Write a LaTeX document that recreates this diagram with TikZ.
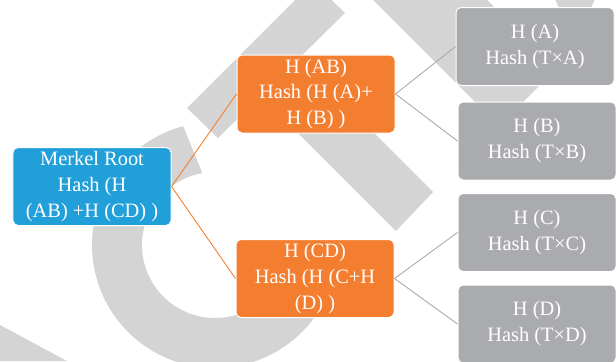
\documentclass[tikz,border=0pt]{standalone}
\usepackage{fontspec}
\setmainfont{Liberation Serif}
\definecolor{wmgray}{HTML}{D4D4D4}
\definecolor{rootblue}{HTML}{219FD9}
\definecolor{midorange}{HTML}{F47E30}
\definecolor{leafgray}{HTML}{AAABAF}
\definecolor{linegray}{HTML}{ABABAB}
\tikzset{
  wm/.style={fill=wmgray, draw=none},
  hbox/.style={rectangle, rounded corners=5bp, draw=white, line width=1bp,
    minimum width=158bp, minimum height=78bp, inner sep=0pt, align=center,
    text=white, font=\fontsize{20.5}{26}\selectfont},
  rootbox/.style={hbox, fill=rootblue},
  midbox/.style={hbox, fill=midorange},
  leafbox/.style={hbox, fill=leafgray},
  orangelink/.style={draw=midorange, line width=0.9bp},
  graylink/.style={draw=linegray, line width=0.9bp}
}
\begin{document}
\begin{tikzpicture}[x=1bp,y=-1bp]
\useasboundingbox (0,0) rectangle (616,361);
\begin{scope}
\clip (0,0) rectangle (616,361);
% watermark
\fill[wm] (183.2,126.2) arc[start angle=255, end angle=0, radius=123]
  -- (288,245) arc[start angle=0, end angle=260, radius=73] -- cycle;
\fill[wm] (187,108) -- (218,138) -- (345,13) -- (313,-18) -- cycle;
\fill[wm] (247.5,82.5) -- (396,231) -- (433,192) -- (285.5,44.5) -- cycle;
\fill[wm] (363,-10) -- (477,-10) -- (556,69) -- (499,126) -- cycle;
\fill[wm] (553,-5) -- (597,-5) -- (590,10) -- (560,10) -- cycle;
\fill[wm] (0,325) -- (67,361) -- (0,361) -- cycle;
\end{scope}
% nodes
\node[rootbox] (root) at (92,186.5) {Merkel Root\\Hash (H\\(AB) +H (CD) )};
\node[midbox] (ab) at (316,94) {H (AB)\\Hash (H (A)+\\H (B) )};
\node[midbox] (cd) at (315,278.5) {H (CD)\\Hash (H (C+H\\(D) )};
\node[leafbox] (a) at (535,46.5) {H (A)\\Hash (T×A)};
\node[leafbox] (b) at (537,141) {H (B)\\Hash (T×B)};
\node[leafbox] (c) at (537,232.5) {H (C)\\Hash (T×C)};
\node[leafbox] (d) at (537,324) {H (D)\\Hash (T×D)};
% connectors
\draw[orangelink] (root.east) -- (ab.west);
\draw[orangelink] (root.east) -- (cd.west);
\draw[graylink] (ab.east) -- (a.west);
\draw[graylink] (ab.east) -- (b.west);
\draw[graylink] (cd.east) -- (c.west);
\draw[graylink] (cd.east) -- (d.west);
\end{tikzpicture}
\end{document}
